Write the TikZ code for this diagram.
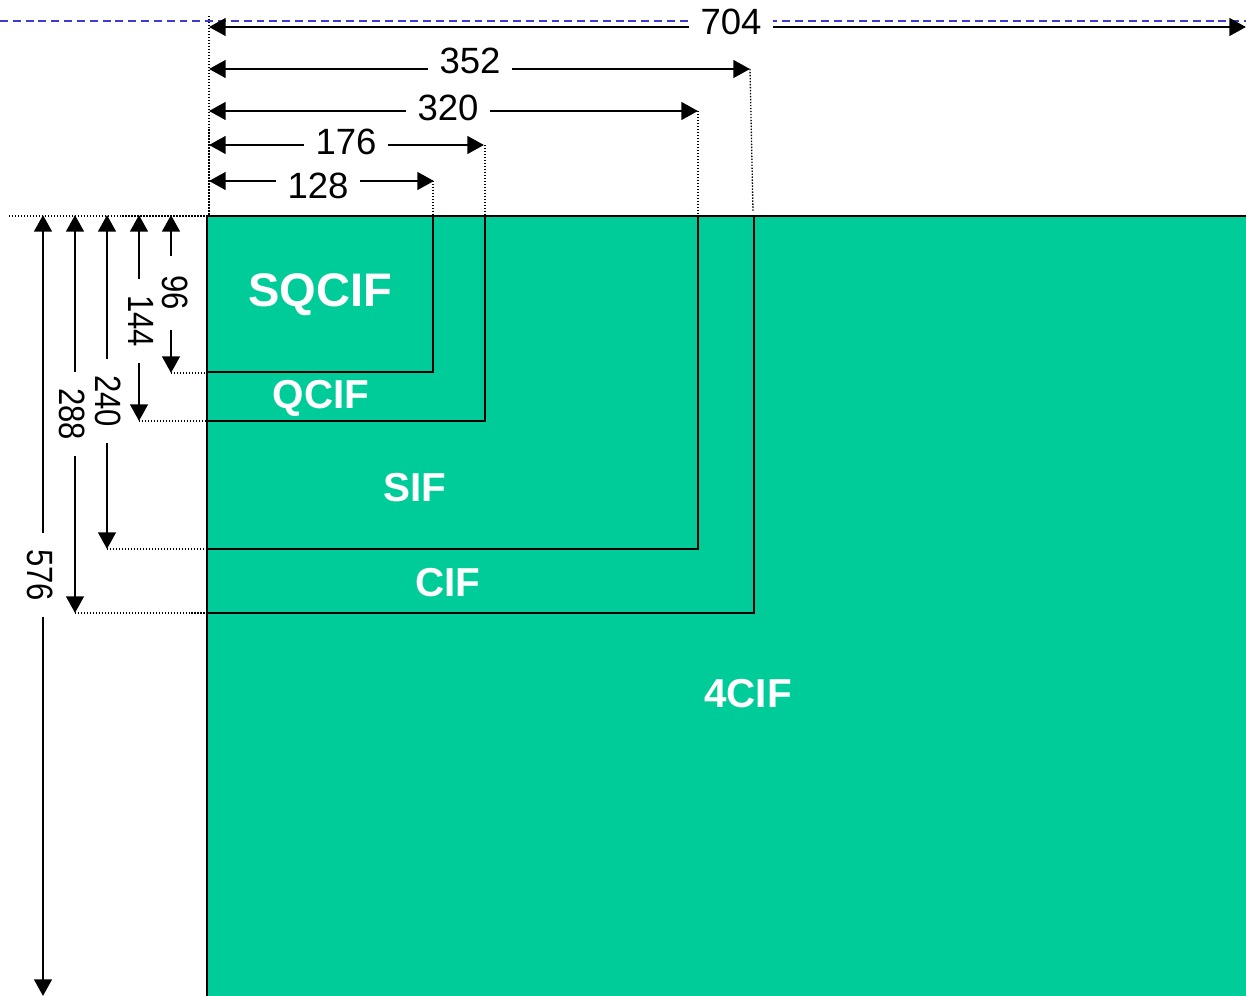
\documentclass[tikz,border=0pt]{standalone}
\usepackage{fontspec}
\setmainfont{Liberation Sans}
\usetikzlibrary{arrows.meta}
\definecolor{cifgreen}{RGB}{0,204,153}
\definecolor{dimblue}{RGB}{60,60,210}
\begin{document}
\begin{tikzpicture}[x=0.02cm,y=-0.02cm,
  dimarrow/.style={line width=1.6pt, {Triangle[length=9.5pt,width=10pt]}-{Triangle[length=9.5pt,width=10pt]}},
  hlabel/.style={fill=white, inner xsep=6.8pt, inner ysep=0pt, font=\fontsize{20.8}{20.8}\selectfont},
  vlabel/.style={fill=white, rotate=-90, inner xsep=9pt, inner ysep=0pt, font=\fontsize{20.8}{20.8}\selectfont},
  guide/.style={line width=0.75pt, dash pattern=on 0.8pt off 0.9pt},
  bluedash/.style={draw=dimblue, line width=1.1pt, dash pattern=on 4.5pt off 2.8pt},
  area/.style={fill=cifgreen, draw=black, line width=1.4pt},
  frameline/.style={draw=black, line width=1.4pt},
  fmtbig/.style={text=white, font=\bfseries\fontsize{26.8}{26.8}\selectfont},
  fmt/.style={text=white, font=\bfseries\fontsize{23}{23}\selectfont}]
\clip (0,0) rectangle (1246,996);

% ---- format rectangles ----
\coordinate (o) at (207,216);
\draw[area] (o) rectangle (1252,1002);
\draw[frameline] (o) rectangle (754,613);
\draw[frameline] (o) rectangle (698,549);
\draw[frameline] (o) rectangle (485,421);
\draw[frameline] (o) rectangle (433,372);

\node[fmtbig] (sqcif) at (320,295) {SQCIF};
\node[fmt] (qcif) at (321,398) {QCIF};
\node[fmt] (sif) at (415,488) {SIF};
\node[fmt] (cif) at (448,583) {CIF};
\node[fmt] (fourcif) at (748,694) {4CIF};

% ---- guide (dotted) lines ----
\coordinate (gtop) at (209,16);
\coordinate (gbot) at (209,216);
\draw[guide] (gtop) -- (gbot);
\coordinate (hl) at (9,216);
\draw[guide] (hl) -- (o);
\coordinate (g128a) at (433,181); \coordinate (g128b) at (433,216);
\coordinate (g176a) at (485,145); \coordinate (g176b) at (485,216);
\coordinate (g320a) at (698,111); \coordinate (g320b) at (698,216);
\coordinate (g352a) at (750,69);  \coordinate (g352b) at (753,212);
\draw[guide] (g128a) -- (g128b);
\draw[guide] (g176a) -- (g176b);
\draw[guide] (g320a) -- (g320b);
\draw[guide] (g352a) -- (g352b);
\coordinate (g96a) at (171,373);  \coordinate (g96b) at (207,373);
\coordinate (g144a) at (139,421); \coordinate (g144b) at (207,421);
\coordinate (g240a) at (107,549); \coordinate (g240b) at (207,549);
\coordinate (g288a) at (75,613);  \coordinate (g288b) at (207,613);
\draw[guide] (g96a) -- (g96b);
\draw[guide] (g144a) -- (g144b);
\draw[guide] (g240a) -- (g240b);
\draw[guide] (g288a) -- (g288b);

% ---- blue dashed line ----
\coordinate (bl) at (0,21);
\coordinate (br) at (1246,21);
\draw[bluedash] (bl) -- (br);

% ---- horizontal dimensions ----
\coordinate (h704a) at (209,27);  \coordinate (h704b) at (1246,27);
\coordinate (h352a) at (209,69);  \coordinate (h352b) at (750,69);
\coordinate (h320a) at (209,111); \coordinate (h320b) at (698,111);
\coordinate (h176a) at (209,145); \coordinate (h176b) at (484,145);
\coordinate (h128a) at (209,181); \coordinate (h128b) at (434,181);
\draw[dimarrow] (h704a) -- (h704b);
\draw[dimarrow] (h352a) -- (h352b);
\draw[dimarrow] (h320a) -- (h320b);
\draw[dimarrow] (h176a) -- (h176b);
\draw[dimarrow] (h128a) -- (h128b);
\node[hlabel, inner ysep=2pt] (l704) at (731,22) {704};
\node[hlabel] (l352) at (470,61) {352};
\node[hlabel] (l320) at (448,108) {320};
\node[hlabel] (l176) at (346,142) {176};
\node[hlabel] (l128) at (318,186) {128};

% ---- vertical dimensions ----
\coordinate (v96a) at (171,215);  \coordinate (v96b) at (171,373);
\coordinate (v144a) at (139,215); \coordinate (v144b) at (139,421);
\coordinate (v240a) at (107,215); \coordinate (v240b) at (107,549);
\coordinate (v288a) at (75,215);  \coordinate (v288b) at (75,613);
\coordinate (v576a) at (43,215);  \coordinate (v576b) at (43,996);
\draw[dimarrow] (v96a) -- (v96b);
\draw[dimarrow] (v144a) -- (v144b);
\draw[dimarrow] (v240a) -- (v240b);
\draw[dimarrow] (v288a) -- (v288b);
\draw[dimarrow] (v576a) -- (v576b);
\node[vlabel, inner xsep=11pt] (l96) at (175,293) {\scalebox{0.85}[1]{96}};
\node[vlabel] (l144) at (141,321) {\scalebox{0.85}[1]{144}};
\node[vlabel] (l240) at (108,401) {\scalebox{0.85}[1]{240}};
\node[vlabel] (l288) at (72,414) {\scalebox{0.85}[1]{288}};
\node[vlabel] (l576) at (40,575) {\scalebox{0.85}[1]{576}};
\end{tikzpicture}
\end{document}
